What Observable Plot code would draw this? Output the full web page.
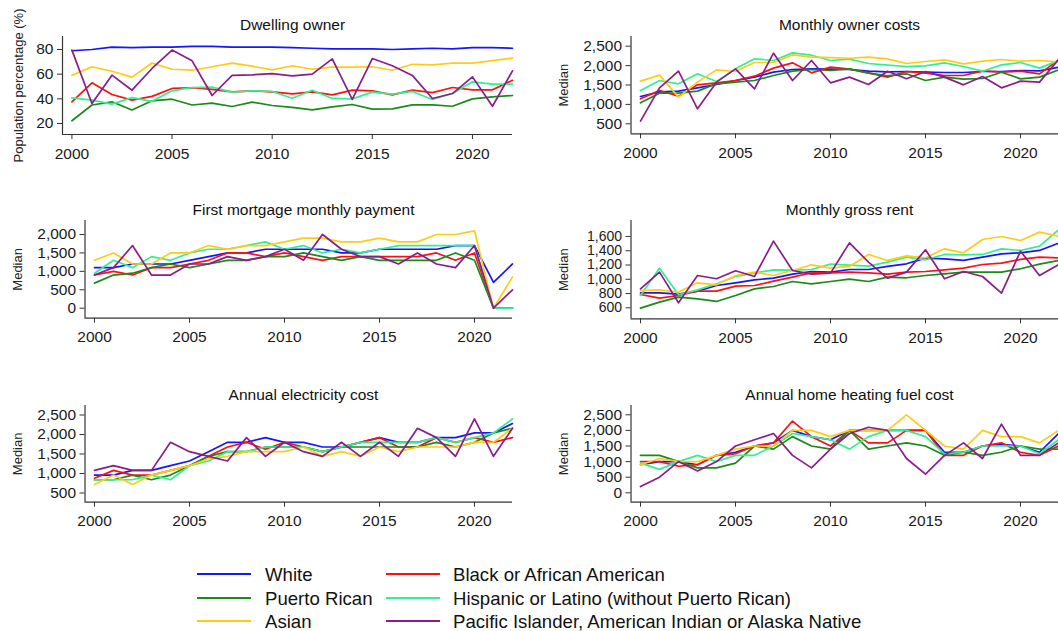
<!DOCTYPE html>
<html><head><meta charset="utf-8">
<script src="https://cdn.jsdelivr.net/npm/d3@7"></script>
<script src="https://cdn.jsdelivr.net/npm/@observablehq/plot@0.6"></script>
<style>
html,body{margin:0;padding:0;background:#fff;}
body{width:1058px;height:631px;overflow:hidden;position:relative;font-family:"Liberation Sans",Arial,sans-serif;}
.panel{position:absolute;}
.panel svg{overflow:visible;}
#legend{position:absolute;left:0;top:550px;}
</style></head><body>
<div id="chart"></div>
<script>
const years = d3.range(2000, 2023);
const groups = ["White", "Black or African American", "Puerto Rican", "Hispanic or Latino (without Puerto Rican)", "Asian", "Pacific Islander, American Indian or Alaska Native"];
const colors = ["#1515ff", "#ff1010", "#1a8a1a", "#30f090", "#ffcc14", "#8b1c8b"];
const xTicks = [2000, 2005, 2010, 2015, 2020];

// Dwelling owner (population %)
const dwellingWhite    = [79,80,82,81.5,82,82,82.5,82.5,82,82,82,81.5,81,80.5,80.5,80.5,80,80.5,81,80.5,81.5,81.5,81];
const dwellingBlack    = [37.6,53,43.5,39,42,48.4,49,47.6,45.7,46.5,45.7,44,45.7,43.2,47,46.5,43.2,47,45,49.2,47.3,47.3,55];
const dwellingPR       = [22.2,35,37.6,31,38.4,39.7,35,36.5,33.8,37.3,34.6,33,31,33.5,35.4,31.6,31.9,35.1,35.1,34,40,41.6,42.7];
const dwellingHispanic = [40.8,39,35.7,41,38,46.5,49.2,49.5,45.4,46.5,46,40.5,47,40.3,40,45.4,43.8,46,39.5,44.3,53.8,52,52];
const dwellingAsian    = [59,66,62.4,57.6,69,64,63.2,66,69,66.5,63.5,66.8,64,65.7,65.7,66,63.2,68,67.5,69,69,71,73];
const dwellingPacific  = [79.5,36.2,59.2,47,64.6,79.5,70.8,42.7,59,59.5,60.5,58.6,60,72.4,39.5,72.7,66.8,59,40.3,44.3,57.8,34,62.7];

// Monthly owner costs (median)
const ownerWhite    = [1204,1324,1341,1427,1513,1616,1702,1830,1899,1916,1908,1899,1856,1839,1848,1830,1822,1822,1848,1848,1873,1865,1959];
const ownerBlack    = [1144,1358,1212,1504,1556,1616,1727,1934,2071,1813,1959,1908,1813,1702,1848,1805,1745,1745,1865,1830,1856,1788,2148];
const ownerPR       = [1041,1290,1290,1341,1530,1573,1616,1745,1856,1899,1873,1916,1805,1736,1788,1616,1702,1650,1667,1830,1659,1702,1890];
const ownerHispanic = [1358,1616,1530,1788,1590,1916,2174,2131,2328,2268,2131,2165,2054,2011,1976,1994,2071,1976,1856,2019,2080,1934,2131];
const ownerAsian    = [1599,1753,1187,1573,1890,1848,2080,2080,2277,2217,2208,2190,2217,2174,2054,2105,2148,2045,2114,2157,2114,2131,2097];
const ownerPacific  = [569,1427,1856,886,1573,1916,1401,2320,1616,2131,1556,1702,1513,1856,1659,1848,1702,1504,1719,1427,1599,1573,2157];

// First mortgage monthly payment (median)
const mortgageWhite    = [1100,1100,1200,1200,1200,1300,1400,1500,1500,1600,1600,1600,1600,1500,1500,1600,1600,1600,1600,1700,1700,700,1200];
const mortgageBlack    = [900,1000,900,1100,1100,1200,1300,1500,1500,1400,1500,1400,1300,1400,1400,1400,1400,1400,1500,1300,1500,0,0];
const mortgagePR       = [680,900,950,1100,1200,1100,1200,1300,1300,1400,1400,1500,1400,1300,1400,1300,1300,1300,1300,1500,1300,0,0];
const mortgageHispanic = [950,1300,1100,1400,1300,1500,1600,1600,1700,1800,1600,1700,1500,1600,1500,1600,1700,1700,1700,1700,1700,0,0];
const mortgageAsian    = [1300,1500,1200,1200,1500,1500,1700,1600,1700,1700,1800,1900,1900,1800,1800,1900,1800,1800,2000,2000,2100,0,850];
const mortgagePacific  = [900,1100,1700,900,900,1200,1200,1400,1300,1400,1600,1300,2000,1600,1400,1400,1200,1500,1200,1100,1700,0,500];

// Monthly gross rent (median)
const rentWhite    = [810,810,792,834,913,950,992,1016,1072,1109,1100,1137,1137,1180,1217,1296,1287,1264,1310,1357,1371,1404,1507];
const rentBlack    = [787,736,773,834,834,904,913,974,1030,1091,1091,1100,1091,1072,1100,1109,1133,1156,1207,1226,1278,1310,1301];
const rentPR       = [595,679,750,726,689,773,866,899,969,936,969,1002,969,1030,1021,1053,1077,1100,1100,1100,1147,1212,1264];
const rentHispanic = [773,1156,782,852,936,1039,1086,1133,1128,1137,1212,1198,1184,1240,1310,1273,1348,1343,1348,1427,1404,1464,1693];
const rentAsian    = [843,852,820,950,922,1053,1100,1053,1123,1203,1156,1180,1348,1264,1329,1301,1427,1371,1558,1600,1544,1661,1605];
const rentPacific  = [866,1100,670,1053,1007,1119,1039,1535,1123,1072,1086,1511,1240,1016,1100,1413,1007,1109,1039,806,1394,1053,1203];

// Annual electricity cost (median)
const elecWhite    = [960,960,1080,1080,1200,1320,1560,1800,1800,1920,1800,1800,1680,1680,1800,1920,1800,1800,1920,1920,2040,2040,2280];
const elecBlack    = [880,1080,960,960,1080,1200,1440,1680,1800,1620,1800,1680,1560,1680,1800,1920,1680,1680,1920,1800,1920,1800,1920];
const elecPR       = [840,840,960,840,960,1200,1440,1560,1560,1680,1680,1680,1560,1680,1680,1680,1680,1680,1800,1680,1800,2040,2160];
const elecHispanic = [840,840,840,960,840,1200,1320,1560,1560,1680,1680,1680,1560,1680,1800,1800,1800,1800,1920,1800,1920,2040,2400];
const elecAsian    = [720,960,720,960,1080,1200,1380,1440,1560,1560,1560,1680,1440,1560,1440,1680,1560,1680,1680,1680,1800,1800,2160];
const elecPacific  = [1080,1200,1080,1080,1800,1560,1440,1320,1920,1440,1800,1560,1440,1800,1440,1800,1440,2160,1920,1440,2400,1440,2160];

// Annual home heating fuel cost (median)
const heatWhite    = [900,1000,1000,900,1200,1300,1500,1600,2000,1800,1700,2000,2000,2000,2000,2000,1300,1300,1500,1550,1500,1300,1900];
const heatBlack    = [1000,1000,850,900,1200,1250,1500,1600,2300,1800,1500,2000,1600,1600,2000,2000,1200,1200,1500,1600,1300,1200,1500];
const heatPR       = [1200,1200,1000,800,800,950,1500,1400,1800,1500,1400,2000,1400,1500,1600,1500,1200,1300,1200,1300,1500,1400,1400];
const heatHispanic = [950,750,1000,1200,1000,1200,1200,1500,1900,1800,1700,1400,1800,2000,2000,1800,1250,1300,1500,1500,1500,1250,1700];
const heatAsian    = [900,1100,1000,1000,1200,1400,1500,1500,2000,2000,1800,2000,2000,2000,2500,2000,1500,1400,2000,1800,1800,1600,2000];
const heatPacific  = [200,500,1000,700,1000,1500,1700,1900,1200,800,1400,1900,2100,2000,1100,600,1200,1600,1100,2200,1200,1200,1600];

const panels = [
  {title:"Dwelling owner", ylabel:"Population percentage (%)",
   series:[dwellingWhite,dwellingBlack,dwellingPR,dwellingHispanic,dwellingAsian,dwellingPacific],
   left:0, x0:62, x1:512, xDomain:[1999.53,2022], y0:36, y1:134, yDomain:[11.08,90.54],
   yTicks:[20,40,60,80], tickFont:15.5, titleX:292, titleY:25, ylabelX:18.6},
  {title:"Monthly owner costs", ylabel:"Median",
   series:[ownerWhite,ownerBlack,ownerPR,ownerHispanic,ownerAsian,ownerPacific],
   left:528, x0:630.5, x1:1058, xDomain:[1999.5,2022], y0:36, y1:133.3, yDomain:[242,2750],
   yTicks:[500,1000,1500,2000,2500], tickFont:15.5, titleX:849, titleY:25, ylabelX:563.5},
  {title:"First mortgage monthly payment", ylabel:"Median",
   series:[mortgageWhite,mortgageBlack,mortgagePR,mortgageHispanic,mortgageAsian,mortgagePacific],
   left:0, x0:84.5, x1:512, xDomain:[1999.5,2022], y0:220, y1:317.7, yDomain:[-271,2380],
   yTicks:[0,500,1000,1500,2000], tickFont:15.5, titleX:303, titleY:210, ylabelX:17.7},
  {title:"Monthly gross rent", ylabel:"Median",
   series:[rentWhite,rentBlack,rentPR,rentHispanic,rentAsian,rentPacific],
   left:528, x0:630.5, x1:1058, xDomain:[1999.5,2022], y0:220, y1:318.3, yDomain:[446,1824],
   yTicks:[600,800,1000,1200,1400,1600], tickFont:14, titleX:849, titleY:210, ylabelX:563.5},
  {title:"Annual electricity cost", ylabel:"Median",
   series:[elecWhite,elecBlack,elecPR,elecHispanic,elecAsian,elecPacific],
   left:0, x0:84.5, x1:512, xDomain:[1999.5,2022], y0:405, y1:501.7, yDomain:[264,2744],
   yTicks:[500,1000,1500,2000,2500], tickFont:15.5, titleX:303, titleY:394.7, ylabelX:17.7},
  {title:"Annual home heating fuel cost", ylabel:"Median",
   series:[heatWhite,heatBlack,heatPR,heatHispanic,heatAsian,heatPacific],
   left:528, x0:630.5, x1:1058, xDomain:[1999.5,2022], y0:405, y1:501.7, yDomain:[-301,2798],
   yTicks:[0,500,1000,1500,2000,2500], tickFont:15.5, titleX:849, titleY:394.7, ylabelX:563.5}
];

const chart = document.getElementById("chart");
const axisColor = "#333";
for (const p of panels) {
  const svgTop = p.y0 - 40;
  const width = p.left === 0 ? 528 : 530;
  const mL = p.x0 - p.left, mR = p.left + width - p.x1, mT = p.y0 - svgTop, mB = 34;
  const height = mT + (p.y1 - p.y0) + mB;
  const cx = (p.x0 + p.x1) / 2;
  const marks = [
    Plot.ruleX([p.xDomain[0]], {stroke: axisColor, strokeWidth: 1.2}),
    Plot.ruleY([p.yDomain[0]], {stroke: axisColor, strokeWidth: 1.2}),
    Plot.axisX(xTicks, {tickSize: 5, tickPadding: 8, tickFormat: d => String(d), label: null, stroke: axisColor, fontSize: 15.5}),
    Plot.axisY(p.yTicks, {tickSize: 5, tickPadding: 4, tickFormat: d3.format(","), label: null, stroke: axisColor, fontSize: p.tickFont}),
  ];
  p.series.forEach((vals, i) => {
    marks.push(Plot.line(years.map((yr, j) => ({year: yr, value: vals[j]})),
      {x: "year", y: "value", stroke: colors[i], strokeWidth: 1.7}));
  });
  marks.push(Plot.text([p.title], {frameAnchor: "top", dx: p.titleX - cx, dy: p.titleY - p.y0,
    lineAnchor: "middle", textAnchor: "middle", fontSize: 15.5, fill: "#111"}));
  marks.push(Plot.text([p.ylabel], {frameAnchor: "left", dx: p.ylabelX - p.x0, rotate: -90,
    lineAnchor: "middle", textAnchor: "middle", fontSize: 13, fill: "#222"}));
  const svg = Plot.plot({
    width, height, marginLeft: mL, marginRight: mR, marginTop: mT, marginBottom: mB,
    x: {domain: p.xDomain}, y: {domain: p.yDomain},
    style: {fontFamily: '"Liberation Sans", Arial, sans-serif', fontSize: "15.5px", color: "#1a1a1a", background: "transparent", overflow: "visible"},
    marks
  });
  const div = document.createElement("div");
  div.className = "panel";
  div.style.left = p.left + "px";
  div.style.top = svgTop + "px";
  div.appendChild(svg);
  chart.appendChild(div);
}

// Legend (two columns, row-major order)
const legend = d3.create("svg").attr("id", "legend").attr("width", 1058).attr("height", 81);
const colLine = [[197, 251], [386, 440]];
const colText = [265, 453];
const rowY = [24, 48, 71];
groups.forEach((g, i) => {
  const c = i % 2, r = Math.floor(i / 2);
  legend.append("line").attr("x1", colLine[c][0]).attr("x2", colLine[c][1])
    .attr("y1", rowY[r]).attr("y2", rowY[r]).attr("stroke", colors[i]).attr("stroke-width", 2);
  legend.append("text").attr("x", colText[c]).attr("y", rowY[r]).attr("dy", "0.35em")
    .attr("font-family", '"Liberation Sans", Arial, sans-serif').attr("font-size", 18.6)
    .attr("fill", "#111").text(g);
});
document.body.appendChild(legend.node());
</script>
</body></html>
